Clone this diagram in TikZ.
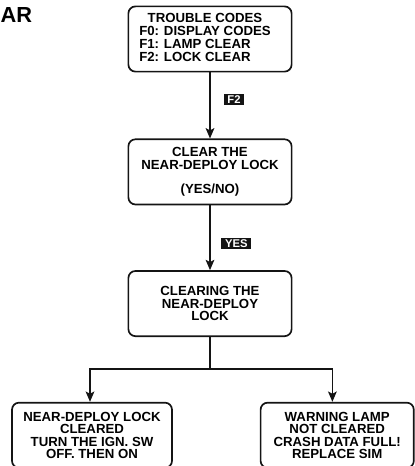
\documentclass[tikz,border=0pt]{standalone}
\usepackage{fontspec}
\setmainfont{Liberation Sans}
\usepackage{tikz}
\usetikzlibrary{
    positioning,
    arrows.meta
}
\definecolor{InkBlack}{RGB}{20,20,20}

\begin{document}
\begin{tikzpicture}[
    stepbox/.style={rectangle, draw=InkBlack, line width=1.2pt, rounded corners=5pt, align=center, minimum width=4.08cm, minimum height=1.63cm, font=\fontsize{9.4}{8.8}\selectfont\bfseries, inner sep=2pt},
    flow/.style={line width=0.9pt, color=InkBlack, -{Stealth[length=2.6mm, width=2.2mm, inset=0.6mm]}},
    keylbl/.style={fill=InkBlack, text=white, font=\fontsize{8}{8}\selectfont\bfseries, inner xsep=2.6pt, inner ysep=1.3pt},
]
\useasboundingbox (0,0) rectangle (10.35,-11.65);
\node[anchor=base west, inner sep=0, font=\fontsize{15.5}{16}\selectfont\bfseries] (title) at (0.01,-0.57) {AR};

\node[stepbox] (codes) at (5.25,-0.975) {\begin{tabular}{@{}l@{\hspace{0.25cm}}}\multicolumn{1}{@{}c@{\hspace{0.25cm}}}{TROUBLE CODES}\\F0: DISPLAY CODES\\F1: LAMP CLEAR\\F2: LOCK CLEAR\end{tabular}};
\node[stepbox, below=1.65cm of codes] (clearq) {CLEAR THE\\NEAR-DEPLOY LOCK\\[0.3cm](YES/NO)};
\node[stepbox, below=1.62cm of clearq] (clearing) {CLEARING THE\\NEAR-DEPLOY\\LOCK};
\node[stepbox, minimum width=4.0cm, below=1.62cm of clearing, xshift=-2.95cm] (lockok) {NEAR-DEPLOY LOCK\\CLEARED\\TURN THE IGN. SW\\OFF. THEN ON};
\node[stepbox, minimum width=3.83cm, below=1.62cm of clearing, xshift=3.18cm] (lampbad) {WARNING LAMP\\NOT CLEARED\\CRASH DATA FULL!\\REPLACE SIM};

% connectors
\draw[flow] (codes) -- node[keylbl, right=0.33cm, pos=0.41] (keyf2) {F2} (clearq);
\draw[flow] (clearq) -- node[keylbl, right=0.27cm, pos=0.59] (keyyes) {YES} (clearing);
\draw[line width=0.9pt, InkBlack] (clearing.south) -- ++(0,-0.8) coordinate (split);
\draw[flow] (split) -| ([xshift=-0.05cm]lockok.north);
\draw[flow] (split) -| ([xshift=-0.12cm]lampbad.north);
\end{tikzpicture}
\end{document}
